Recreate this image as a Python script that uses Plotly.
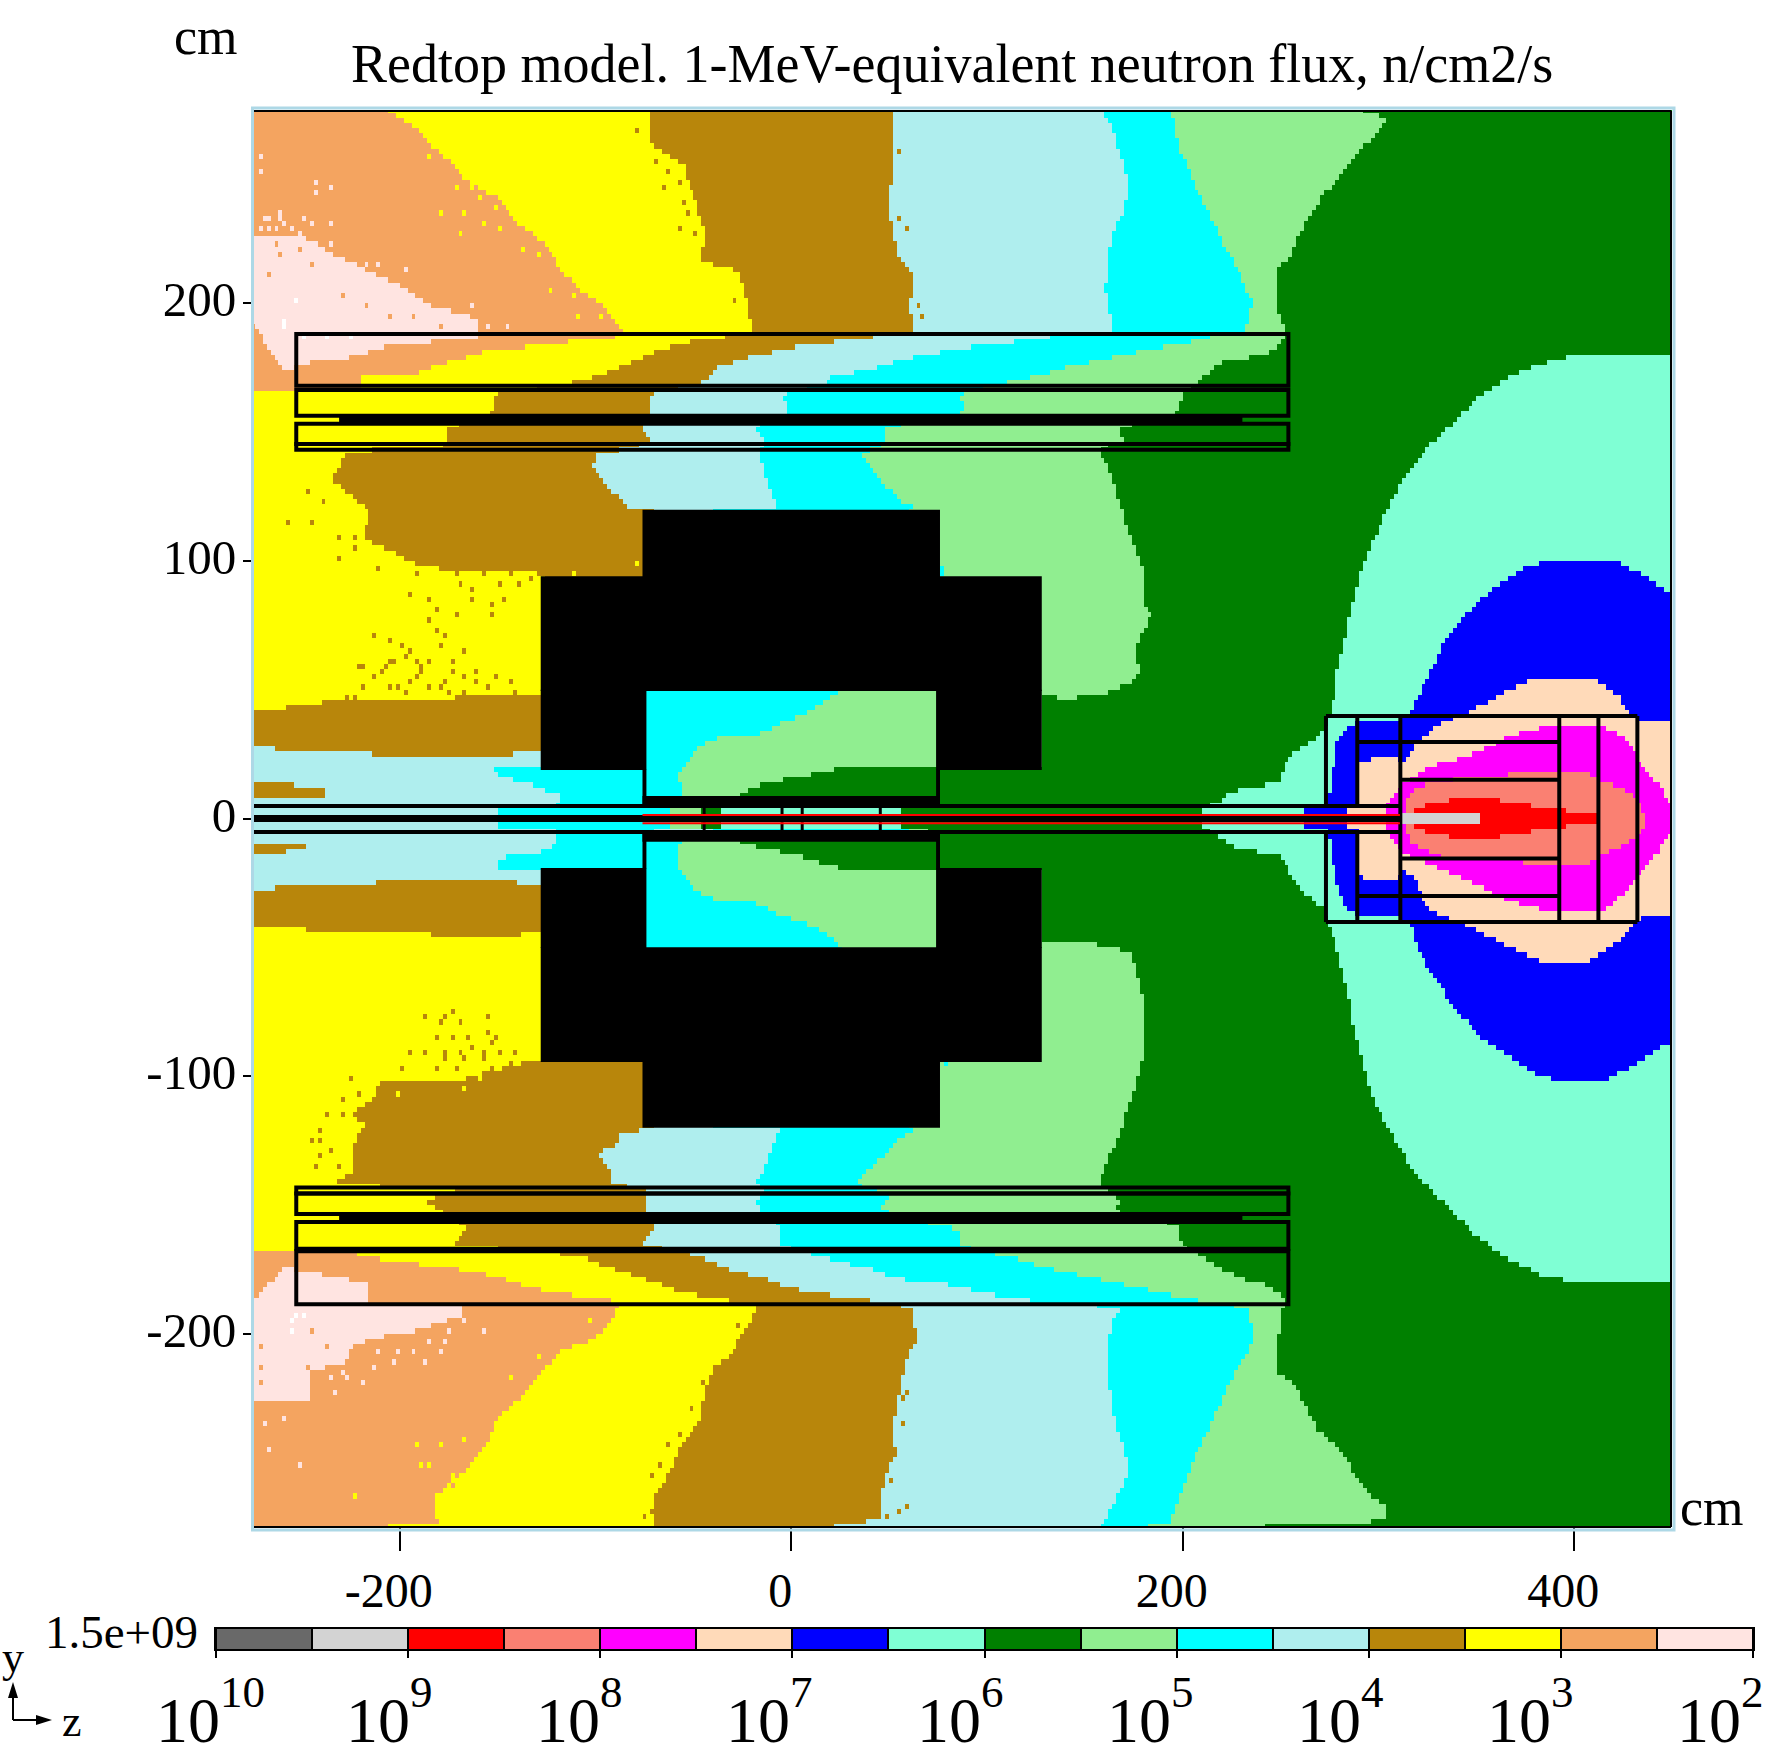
import numpy as np
import plotly.graph_objects as go

W, H = 1774, 1760
SERIF = "Liberation Serif"

# flux bins, highest first, as on the colour bar (last one is the white empty bin)
LEVEL_COLORS = ["#696969", "#d3d3d3", "#ff0000", "#fa8072", "#ff00ff", "#ffdab9", "#0000ff", "#7fffd4",
                "#008000", "#90ee90", "#00ffff", "#afeeee", "#b8860b", "#ffff00", "#f4a460", "#ffe4e1", "#ffffff"]
GRAY, RED, SALMON, MAGENTA, PEACH, BLUE, AQUA, GREEN = 1, 2, 3, 4, 5, 6, 7, 8
LIGHTGREEN, CYAN, PALETURQ, GOLDENROD, YELLOW, SANDY, MISTY, WHITE = 9, 10, 11, 12, 13, 14, 15, 16

BAR_LABELS = ["10", "9", "8", "7", "6", "5", "4", "3", "2"]
X_TICKS = [-200, 0, 200, 400]
X_TICK_TEXT = ["-200", "0", "200", "400"]
Y_TICKS = [200, 100, 0, -100, -200]
Y_TICK_TEXT = ["200", "100", "0", "-100", "-200"]

# contours, (z cm, y cm), top to bottom; everything left of them takes the colour
LIGHTGREEN_EDGE = [(288.7, 276), (304.8, 271.6), (299, 265.7), (288.7, 258.3), (278.5, 247.9), (271.3, 241.9), (261, 228.6),
                   (255.2, 218.2), (248, 213.7), (248, 198.8), (252.3, 188.7), (249.4, 184.7), (243.6, 180.3), (217.4, 176.6),
                   (208.6, 169.1), (199.9, 165.4), (197, 157.3), (167.8, 152), (169.3, 146.1), (160, 144.5), (157.7, 142.4),
                   (159.2, 140.5), (164.8, 130.2), (169.2, 118.5), (173.7, 108), (179.2, 97.8), (180.4, 83.6), (183.7, 78.4),
                   (175.9, 66.8), (177.7, 56.4), (173.7, 53), (158, 48), (142.5, 46.7), (129, 47.3), (128, 20), (70, 20),
                   (70, -20), (128, -20), (128, -47.4), (150, -48), (173.7, -51.8), (179.5, -69.4), (180.4, -90.3),
                   (176.5, -102), (171.3, -112.6), (167.3, -124.5), (160.8, -133.7), (156.9, -142.3), (160.8, -144),
                   (167.3, -148), (166, -152.8), (197.5, -158), (199.3, -166), (209.8, -169.5), (218.4, -174.5),
                   (232.8, -179.2), (242, -180.5), (249.9, -185), (252.5, -188.4), (251.2, -189.7), (248.6, -202.2),
                   (248.6, -215.4), (257.7, -219.3), (263, -228.5), (269.5, -237.8), (277.4, -243), (285.2, -250.9),
                   (291.8, -260), (304.9, -268), (304.9, -272.7), (287.9, -273.3), (214.5, -276)]
CYAN_EDGE = [(194, 276), (198.4, 259.8), (205.7, 246.4), (214.4, 233), (223.2, 219.6), (230.5, 209.2), (235.4, 200.3),
             (232, 188.7), (214.4, 187), (202.8, 184.7), (191, 183.3), (167.8, 179.5), (144.5, 175.8), (124.2, 171.4),
             (109.6, 169.1), (86.3, 164.7), (89.2, 157.3), (49, 152), (49, 146), (44.5, 144.5), (34.3, 141.7), (44.5, 132),
             (57, 123), (66, 120), (60, 119), (60, -119), (63.8, -120.5), (53.4, -125.8), (45.5, -132.4), (34.7, -140),
             (34.3, -142.4), (42, -144.6), (49.4, -146.9), (45.5, -152), (86.1, -160), (86.1, -166), (111, -170),
             (132, -174.5), (155.5, -178.5), (179, -182.4), (202.7, -186.4), (215.8, -187.7), (232.8, -189.7),
             (236.8, -199.6), (232.8, -207.5), (226.3, -215.4), (218.4, -228.5), (209.3, -243), (202.7, -253.6),
             (197.5, -265.4), (193.5, -273.3), (173.9, -276)]
PALETURQ_EDGE = [(159, 276), (165, 265.7), (169.3, 255.3), (172.2, 244.9), (169.3, 234.5), (163.5, 227), (162, 213.7),
                 (160.6, 204.8), (165, 188.7), (131.4, 187), (111, 184.7), (95, 183.3), (76, 181), (60, 178.8), (44.5, 175),
                 (18, 170.6), (17.3, 169), (-4, 164.7), (-1, 157.3), (-18.5, 152), (-14, 146), (-17, 141.7), (-12.6, 132),
                 (-6.8, 120.1), (-40, 119), (-40, -119), (-6.3, -121), (-10.6, -129.5), (-14.9, -137.4), (-18, -142),
                 (-13.8, -144.6), (-18, -149), (-16, -152.5), (-6.3, -157.7), (-6.3, -165.6), (13, -169.5), (23.8, -172.2),
                 (41, -174.8), (52, -178.5), (77, -180.5), (92.7, -183), (112.3, -186.4), (132, -187.7), (168.6, -189.7),
                 (163.4, -195.6), (162, -208.8), (163.4, -228.5), (168.6, -241.7), (172.6, -250.9), (170, -258.8),
                 (163.4, -268), (158.2, -276)]
GOLDENROD_EDGE = [(51.3, 276), (52.8, 255), (49.9, 240.4), (51.3, 228.6), (55.7, 216.7), (63, 210.7), (60, 198.8), (63, 188.7),
                  (41.6, 187), (18, 184.7), (-2.4, 182.5), (-23, 178.8), (-37.6, 175), (-45, 169), (-72.8, 164.7),
                  (-71.3, 157.3), (-76.3, 152), (-71.3, 146.1), (-99, 141), (-102, 137.2), (-93.3, 129), (-84.5, 121),
                  (-70, 120), (-70, -120.5), (-88, -121.7), (-89, -127), (-98.8, -129.5), (-92.3, -137.4), (-91.2, -142),
                  (-74, -144.6), (-74, -152.5), (-69.7, -158.4), (-76, -165.6), (-49.3, -169.5), (-33, -174.8),
                  (-12.7, -178.7), (-2, -182), (15.2, -184.6), (36.7, -186.6), (61.2, -189.7), (63.8, -202.2), (58.6, -210),
                  (56, -219.3), (52, -235), (53.4, -247), (48, -255), (46.8, -261), (45.5, -272), (13, -276)]
YELLOW_EDGE = [(-72.8, 276), (-72.8, 264), (-65.4, 258), (-55, 254), (-50.8, 243.4), (-46.4, 233), (-43.4, 227), (-46.4, 216.7),
               (-26, 212), (-23, 201.8), (-20, 188.7), (-33, 187), (-55, 184.7), (-72.8, 180.3), (-80, 177.3), (-94.8, 172.9),
               (-111, 169.1), (-152, 164.7), (-152, 157.3), (-175.4, 152), (-175.4, 146), (-180, 144.5), (-228, 142.4),
               (-234, 131.4), (-214.3, 118.5), (-220, 109.4), (-206, 104.2), (-192, 99), (-172.3, 95.8), (-130, 95.2),
               (-126, 94), (-126, -94), (-133, -94.5), (-141.8, -95.4), (-169.7, -102), (-195.6, -102.6), (-210.6, -102),
               (-211.7, -108.5), (-217, -109.9), (-224.6, -115), (-220.3, -119), (-223.5, -128.2), (-224.6, -137.4),
               (-234.3, -142), (-170.8, -144.6), (-187, -148), (-180.5, -151.8), (-165.4, -159.7), (-173, -165.6),
               (-110.6, -169.5), (-88, -175.5), (-75, -178.7), (-55.7, -184), (-34.2, -186.6), (-15.9, -189.2),
               (-19.2, -193.8), (-26.7, -201.7), (-32.1, -209.6), (-38.5, -212.2), (-42.8, -218.8), (-45, -225.3),
               (-47.1, -234.5), (-55.7, -242.4), (-60, -250.2), (-66.5, -259.4), (-71.9, -268.6), (-68.6, -276)]
SANDY_TOP_EDGE = [(-207.7, 276), (-193, 268.7), (-185.7, 262.7), (-172.5, 253.8), (-166.6, 247.9), (-152, 242), (-140, 231.5),
                  (-125.6, 222.6), (-118.2, 213.7), (-108, 204.8), (-96, 198.8), (-86, 188.7), (-89, 187), (-125.6, 184),
                  (-157.8, 181), (-184, 175), (-193, 172), (-221, 171.4), (-219.4, 169.1), (-219.4, 167)]
SANDY_BOTTOM_EDGE = [(-221.4, -167.6), (-221.4, -169.2), (-203, -172), (-176.2, -174.1), (-152.5, -177.4), (-131, -182.7),
                     (-109.5, -185.3), (-92.3, -186.6), (-88, -189.2), (-92.3, -196.5), (-103, -203), (-116, -206),
                     (-128, -215), (-140, -226), (-150.4, -233.2), (-156, -243), (-165, -252), (-178, -260),
                     (-182.7, -267.3), (-180.5, -273.9), (-231, -276)]
MISTY_TOP_EDGE = [(-248.7, 225.6), (-228, 216.7), (-201.8, 207.8), (-184, 198.8), (-160.8, 194.4), (-160.8, 186.2), (-204.8, 184),
                  (-222.4, 179.5), (-248.7, 176.6), (-257.6, 173.6), (-266.4, 181), (-273.7, 191.4)]
MISTY_BOTTOM_EDGE = [(-273, -186), (-265.5, -179.4), (-258, -174), (-251.5, -175.5), (-215, -180.7), (-215, -187.3), (-167.6, -188.6),
                     (-168.7, -193), (-191, -199), (-212.8, -201.7), (-225.7, -205.6), (-228, -212.2), (-245, -213.5),
                     (-247, -226.6)]

# closed regions near the axis
GOLDENROD_BAND_TOP = [(-280, 41), (-253, 43.4), (-226, 46.5), (-185, 46.5), (-160, 47.5), (-126, 47), (-126, 25.7), (-146, 23.6),
                      (-214, 23.6), (-214, 25.9), (-263, 25.9), (-263, 27.2), (-280, 27.2)]
GOLDENROD_BAND_BOTTOM = [(-280, -27.8), (-263, -27.8), (-263, -26.2), (-212, -26.2), (-212, -23.9), (-141.7, -23.9), (-140, -26.2),
                         (-126, -26.2), (-126, -44), (-150, -46), (-200, -44.5), (-257, -42.7), (-280, -41.4)]
PALETURQ_AXIS = [(-280, 27.2), (-263, 27.2), (-263, 25.9), (-214, 25.9), (-214, 23.6), (-146, 23.6), (-140, 25.7), (-110, 25.7),
                 (-110, -26.2), (-140, -26.2), (-141.7, -23.9), (-212, -23.9), (-212, -26.2), (-263, -26.2), (-263, -27.8),
                 (-280, -27.8)]
GOLDENROD_ISLAND_TOP = [(-280, 14.3), (-259, 14.3), (-251, 12.3), (-238, 11), (-238, 7.2), (-280, 7.2)]
GOLDENROD_ISLAND_BOTTOM = [(-280, -9.4), (-247.8, -9.4), (-247.8, -11.6), (-237, -11.6), (-237, -12.9), (-258.7, -12.9),
                           (-258.7, -14.6), (-280, -14.6)]
CYAN_AXIS = [(-126, 21), (-154, 20.1), (-149, 16.2), (-134.5, 13.6), (-122.4, 9.7), (-115, 8.4), (-120, 5.9), (-120, -8.4),
             (-122.4, -11.6), (-137, -14.8), (-146.5, -14.8), (-151.4, -17.4), (-149, -19.4), (-126, -19.4), (-70, -19.4),
             (-70, 21)]

# inside the magnet
CAVITY_TOP = [(-76, 6), (-76, 52), (76, 52), (76, 6)]
CAVITY_BOTTOM = [(-76, -6), (-76, -52), (76, -52), (76, -6)]
CAVITY_GREEN_TOP = [(30.7, 52), (17.5, 45.3), (5.4, 39.5), (-4.2, 37.6), (-18.7, 31.7), (-38, 31), (-47.6, 27.9), (-53.7, 21.4),
                    (-57.8, 17.5), (-54.9, 6), (76, 6), (76, 52)]
CAVITY_DARK_TOP = [(-25.9, 6), (-25.9, 8.7), (-18.7, 12.3), (-9, 14.3), (5.4, 16.2), (17.5, 18.1), (30.7, 20.4), (76, 20.4), (76, 6)]
CAVITY_GREEN_BOTTOM = [(-54.9, -6), (-57.8, -12.3), (-57.3, -20), (-50, -27.8), (-40, -31), (-21, -31.7), (-6.6, -37.5), (7.8, -40.7),
                       (19.9, -45.9), (27.1, -52), (76, -52), (76, -6)]
CAVITY_DARK_BOTTOM = [(-25.9, -6), (-25.9, -9.2), (-16.3, -11.6), (5.4, -14.8), (18.7, -18), (30.7, -20.7), (76, -20.7), (76, -6)]

# target region on the right, painted over the green
AQUA_REGION = [(452, 179.6), (398.8, 179.6), (383.2, 176.5), (365.4, 170.9), (350.9, 163.2), (336.4, 152.2), (324.1, 143), (316.3, 135.3),
               (309.6, 127.6), (303, 117.2), (297.4, 108.2), (291.8, 97.8), (287.4, 86.2), (282.9, 69.3), (279.5, 60.3), (277.3, 46),
               (272, 34.4), (265.8, 29.9), (257.2, 25.3), (252, 20.2), (250.3, 15), (235.7, 11.7), (223.7, 10.5), (218.5, 6.6),
               (210.8, 4), (210.8, -4), (218.5, -7), (223.7, -10.5), (233, -12.2), (250.3, -14.8), (255.5, -22.5), (262.3, -29),
               (272, -35.5), (277, -45.8), (285.2, -70.5), (287.9, -83.7), (293, -98.2), (298.3, -111.3), (307.5, -123.2),
               (318, -137.7), (333.7, -149.5), (349.4, -161.4), (365.1, -170.6), (383.5, -177.2), (399.2, -179.8), (452, -179.8)]
BLUE_REGION = [(452, 86), (441.2, 91.3), (430, 96.5), (417.8, 101), (387.6, 101), (375.4, 97.2), (362, 91.3), (350.9, 84.2),
               (340.8, 75.8), (334.2, 69.3), (327.5, 58.3), (321.9, 49.9), (319, 46), (316.4, 40.9), (310.4, 38.3), (296.6, 38.3),
               (289.8, 37.6), (283, 34.4), (278.6, 30.5), (277.8, 22.7), (275.2, 11.1), (274.4, 6.6), (274.4, -7), (275.2, -7),
               (277.8, -23.8), (283, -34.2), (289.8, -38), (310.4, -38.3), (316.4, -41.3), (319, -48.4), (327, -60), (336.3, -70.5),
               (342.9, -77), (352, -85), (362.5, -90.3), (378.2, -98.2), (388.7, -101.5), (417.5, -101.5), (430.6, -95.5),
               (441, -90.3), (452, -86.3)]
PEACH_REGION = [(452, 38.3), (434, 38.3), (427.8, 40.9), (423.3, 47.3), (414.4, 52.5), (408.8, 54.5), (387.6, 54.5), (377.6, 53.2),
                (369.8, 51.2), (360.9, 47.3), (345.6, 40.9), (334.4, 38.3), (324.1, 32.4), (319, 29.2), (312.1, 21.4), (310, 23.4),
                (296.7, 23.4), (290.3, 21.4), (289.5, 4), (289.5, -4), (290.3, -22.5), (296.7, -23.8), (310, -23.8), (313, -20),
                (319, -23.8), (324, -34.2), (334.4, -38.7), (345.6, -41.3), (360, -47.3), (372, -52), (385, -56), (405, -56),
                (415, -52), (424, -47), (428.9, -41.3), (434, -38.7), (452, -36.8)]
MAGENTA_REGION = [(452, 3.3), (442.6, 13.7), (434, 20.2), (431.5, 25.3), (426.3, 31.8), (418.6, 34.4), (409.1, 36.7), (392.8, 36.7),
                  (390.2, 36.3), (377.4, 34.4), (364.5, 31.2), (360.2, 28.6), (344.7, 24), (325.9, 20.2), (320.7, 16.9), (312.1, 13.7),
                  (308.7, 9.2), (306, 6.6), (304, 4), (304, -4), (306, -6.6), (308.7, -9.6), (312, -14), (321.6, -16), (339.6, -22.5),
                  (353.3, -27), (360.2, -30.3), (377.4, -34.2), (389.4, -36.8), (409, -36.8), (418.6, -34.2), (425.4, -29),
                  (431.5, -22.5), (434, -20.6), (442.6, -13.5), (452, -3)]
SALMON_REGION = [(435.7, 2), (430.6, 8.5), (422, 12.4), (413.4, 14.3), (410.8, 16.3), (406.6, 17.6), (393.7, 18.2), (350, 16.3), (331, 14.3),
                 (320.7, 12.4), (315.6, 9.8), (313.8, 4.6), (314.2, 0), (314.2, -5), (317.3, -9.6), (331, -14.8), (350, -16.7),
                 (368, -16.7), (393, -18), (406.6, -18), (413.4, -14.1), (422, -11.5), (430.6, -7.7), (435.7, -2.5)]
RED_REGION = [(318, 3.3), (323.3, 3.3), (323.3, 5.7), (335.3, 5.7), (335.3, 7.2), (362.8, 7.2), (362.8, 5.7), (377.4, 5.7), (377.4, 3.3),
              (396.3, 3.3), (396.3, 1.7), (411.4, 1.7), (411.4, -1.7), (396.3, -1.7), (396.3, -3.3), (377.4, -3.3), (377.4, -5.7),
              (362.8, -5.7), (362.8, -7.3), (335.3, -7.3), (335.3, -5.7), (323.3, -5.7), (323.3, -3.3), (318, -3.3)]
GRAY_REGION = [(312, 2), (352, 2), (352, -2), (312, -2)]

# flux inside the beam pipe, from left to right
PIPE_EDGES = [-280, -149, -62, -45, -36, 56, 210, 262.6, 284, 304, 312]
PIPE_LEVELS = [PALETURQ, CYAN, LIGHTGREEN, GREEN, AQUA, GREEN, AQUA, BLUE, PEACH, MAGENTA]

# isolated mesh cells, (z cm, y cm)
SPECKLE_GOLDENROD = [(-211.5, 96.5), (-192, 94.5), (-171, 94.5), (-169.5, 91.3), (-164, 88.7), (-157, 94.5), (-150, 90), (-144, 94.5),
                     (-138.6, 91.3), (-133, 92.6), (-196, 86), (-186, 85.5), (-164, 85.5), (-147, 85.5), (-182, 81.6), (-154, 83.3),
                     (-152.6, 79.6), (-172, 78), (-186, 76.4), (-182, 72.5), (-176.5, 70.6), (-213, 70.6), (-204.5, 68.6), (-199, 67),
                     (-179.3, 67), (-196, 65), (-167, 65), (-203, 61.5), (-197.5, 62.8), (-192, 61.5), (-185, 61.5), (-172.3, 61.5),
                     (-220.5, 59.6), (-189, 59.6), (-206.5, 59.6), (-208.7, 57.6), (-161, 57), (-172.3, 57), (-190.5, 55.7), (-213, 55),
                     (-168, 55), (-151.3, 55), (-176.5, 53.8), (-196, 52.5), (-185, 51.8), (-179.3, 50.5), (-142.8, 52.2), (-218.5, 50.5),
                     (-206, 50.5), (-201.7, 50.5), (-161, 52.5), (-155.5, 51.2), (-227, 47.3), (-222.7, 47.3), (-197.5, 48), (-175, 48.6),
                     (-166.7, 49.9), (-141.4, 48), (-133, 47.3), (-248, 127.5), (-239.6, 123), (-245, 115.2), (-257.2, 114.8),
                     (-231.7, 109), (-223.3, 109), (-222.7, 105.5), (-230.6, 101.9),
                     (-172.3, -74.4), (-176.8, -76.4), (-155.8, -76.4), (-188, -78), (-169.7, -80), (-179.4, -80), (-155.8, -82.3),
                     (-181.6, -85), (-174, -85.6), (-165.4, -85.6), (-151.5, -85), (-162.2, -88.2), (-152.5, -87.6), (-195.6, -90.8),
                     (-188, -91.5), (-177.3, -90.2), (-169.7, -91.5), (-157.9, -90.2), (-148.2, -90.2), (-141.8, -91.5), (-176.2, -94),
                     (-167.6, -94), (-156.8, -94), (-198.8, -96.7), (-180.5, -96.7), (-171.9, -96.7), (-152.5, -96.7), (-144, -96),
                     (-225.2, -100.4), (-230, -108.5), (-220.3, -107.9), (-237.5, -115), (-228.9, -115), (-240.7, -120.4), (-246, -124.3),
                     (-240.7, -125), (-241.8, -130.2), (-234.3, -129.5), (-242.9, -135.4), (-231, -135.4),
                     (-27.8, -197), (-20.2, -199), (-18.1, -193.2), (-45, -220), (-39.6, -227.3), (-51.4, -228.6), (-57.9, -239.7),
                     (-62.2, -243.7), (-66.5, -250.9), (-70.8, -255.5), (-69.7, -263.4), (-75, -271.2),
                     (-80, 267.2), (-69.8, 264.2), (-69.8, 254.6), (-64, 251.6), (-56.6, 246.4), (-65.4, 245), (-55.2, 239.7),
                     (-53.7, 235.2), (-58, 228.6), (-49.3, 227), (-42, 223.4), (-36, 218.9), (-28.8, 213.7), (-30, 201.8),
                     (54.2, 259.8), (58.6, 228.6), (67.3, 195.1), (64.4, 198.8), (54.2, 233.8),
                     (56, -226), (59.9, -224), (57.3, -235), (59.9, -266.7), (54.7, -270), (49.4, -272), (50.7, -257), (48, -253.5),
                     (57.3, -211.4),
                     (-220, 59.6), (-204.4, 60.2), (-190, 57.6), (-212.9, 55), (-173, 57.6), (-161, 56.3), (-150.2, 55.7), (-142.9, 52.4)]
SPECKLE_YELLOW = [(-78.4, 98), (-110.6, 94.9), (-167.6, -105.7), (-201.6, -107.9), (-218.6, -118.6), (-159, -101.3), (-191, -101.3),
                  (-144, -218), (-130, -209), (-104, -195.8), (-130, -218), (-120.3, -212.8), (-223.5, -263.6), (-162.2, -265.7),
                  (-178.4, -243.7), (-167.6, -241), (-184.8, -251.6), (-174, -254.2), (-161, -251.6), (-169.7, -256.8), (-180.5, -263.4),
                  (-189.1, -251.6), (-191.3, -243.7),
                  (-171, 245), (-163.7, 245), (-159.3, 240.4), (-154.9, 242.7), (-179.8, 235.2), (-166.6, 234.5), (-152, 237.5),
                  (-157.8, 230), (-149, 228.6), (-169.6, 227), (-137.3, 220.4), (-128.5, 218), (-124, 204), (-110.9, 202.6), (-99, 203.3),
                  (-109.4, 195.9), (-96.2, 195.9), (-182.8, 264.2), (-181.3, 260.5), (-169.6, 256), (-185.7, 256.8)]
SPECKLE_SANDY = [(-236.4, -205), (-247, -212.8), (-270.8, -205), (-270.8, -212.2), (-272, -220), (-242.9, -218.8), (-245, -199),
                 (-167.6, -247.6), (-155.8, -240.4), (-174, -260),
                 (-229, 203), (-263.4, 222.6), (-260.5, 219.6), (-251.7, 221), (-266.4, 210.7), (-216.5, 198.8), (-205, 195.9),
                 (-193, 194.4), (-178.4, 191.4), (-245.8, 215.2)]
SPECKLE_MISTY = [(-266.5, -245.6), (-252, -251), (-269.8, -236), (-260, -233.8), (-210.6, -207), (-202, -207), (-192.3, -207), (-179.4, -207),
                 (-187, -210.2), (-204, -210.2), (-212.8, -212.2), (-230, -214.2), (-235.4, -218), (-227.8, -218), (-218.1, -219.4),
                 (-233.2, -222.7), (-184.8, -203), (-177.3, -203), (-157.9, -199), (-175.1, -199), (-167.6, -195.8),
                 (-272, 256.8), (-272, 250.8), (-242.9, 247), (-235.6, 245), (-242.9, 242), (-262, 235.3), (-266.4, 233.8), (-248.7, 233),
                 (-235.6, 230), (-263.4, 229.3), (-244.4, 230), (-218, 215.2), (-210.6, 215.2), (-197.4, 213.7), (-235.6, 223.4),
                 (-163.7, 198.8), (-198.9, 200.3), (-194.5, 200.3), (-155, 190.7), (-144.6, 191.4),
                 (-272, 228), (-268, 228), (-264, 228), (-260, 230), (-256, 228), (-252, 226), (-270, 232), (-262, 232)]
SPECKLE_WHITE = [(-252.6, -193.8), (-254.7, -195.8), (-249.3, -192.5), (-254.7, -199), (-253.2, 200.8), (-259, 193), (-259, 190),
                 (-248.8, 186.2), (-237, 187), (-225.3, 186.2)]
SPECKLE_CYAN = [(77, 97), (77, 95), (78.2, -95.5)]

# steel of the magnet as (z0, y0, z1, y1)
MAGNET_BLOCKS = [(-76, 93.5, 76, 119.8), (-128, 49.5, 128, 94), (-128, 18.8, -74, 50), (74, 18.8, 128, 50), (-76, 5.6, -74, 19), (74, 5.6, 76, 19),
                 (-76, 5.6, 76, 8.7), (-76, -120, 76, -94), (-128, -94.5, 128, -50), (-128, -50.3, -74, -19.2), (74, -50.3, 128, -19.2),
                 (-76, -19.4, -74, -6), (74, -19.4, 76, -6), (-76, -9, 76, -6)]
# muon system outlines
DETECTOR_BOXES = [(-252.9, 168, 254, 188.1), (-252.9, 156.3, 254, 166.3), (-252.9, 145.4, 254, 153.2), (-252.9, 143.1, 254, 145.4),
                  (-252.9, -145.6, 254, -143.2), (-252.9, -153.5, 254, -145.6), (-252.9, -167, 254, -156.6), (-252.9, -188.5, 254, -168)]
DETECTOR_GAPS = [(-231, 153.2, 230.5, 156.3), (-231, -156.6, 230.5, -153.5)]
# target station lines, (z0, y0, z1, y1)
STATION_LINES = [(273.2, 39.8, 432.3, 39.8), (273.2, -40.2, 432.3, -40.2), (432.3, 39.8, 432.3, -40.2), (273.2, 39.8, 273.2, 4.85),
                 (273.2, -5.25, 273.2, -40.2), (289.2, 39.8, 289.2, 4.85), (289.2, -5.25, 289.2, -40.2), (311.2, 39.8, 311.2, -40.2),
                 (392.4, 39.8, 392.4, -40.2), (412.4, 39.8, 412.4, -40.2), (289.2, 29.7, 392.4, 29.7), (289.2, -30.1, 392.4, -30.1),
                 (311.2, 15, 392.4, 15), (311.2, -15.5, 392.4, -15.5)]
PIPE_LINES = [(-275, 4.85, 311.2, 4.85), (-275, -5.25, 311.2, -5.25)]
PIPE_CORE = (-275, 0, 311.2, 0)
PIPE_BARS = [-44.5, -4.7, 5.6, 45.5]
RED_LINES = [(-76, 1.4, 311, 1.4), (-76, -1.8, 311, -1.8)]


def px(x):
    return x / W


def py(y):
    return 1 - y / H


def inside(zz, yy, poly):
    # even-odd test over the whole mesh
    pts = np.array(poly, dtype=float)
    a = pts
    b = np.roll(pts, -1, axis=0)
    mask = np.zeros(zz.shape, dtype=bool)
    for (z0, y0), (z1, y1) in zip(a, b):
        if y0 == y1:
            continue
        cross = (y0 > yy) != (y1 > yy)
        mask ^= cross & (zz < z0 + (yy - y0) * (z1 - z0) / (y1 - y0))
    return mask


def left_of(edge):
    return [(-280, edge[0][1])] + edge + [(-280, edge[-1][1])]


# mesh of 2 cm cells
z_cells = np.arange(-275, 452, 2)
y_cells = np.arange(-275, 276, 2)
zz, yy = np.meshgrid(z_cells, y_cells)
flux = np.full(zz.shape, GREEN, dtype=float)

PAINT = [(LIGHTGREEN, left_of(LIGHTGREEN_EDGE)), (CYAN, left_of(CYAN_EDGE)), (PALETURQ, left_of(PALETURQ_EDGE)),
         (GOLDENROD, left_of(GOLDENROD_EDGE)), (YELLOW, left_of(YELLOW_EDGE)), (SANDY, left_of(SANDY_TOP_EDGE)),
         (SANDY, left_of(SANDY_BOTTOM_EDGE)), (MISTY, left_of(MISTY_TOP_EDGE)), (MISTY, left_of(MISTY_BOTTOM_EDGE)),
         (GOLDENROD, GOLDENROD_BAND_TOP), (GOLDENROD, GOLDENROD_BAND_BOTTOM), (PALETURQ, PALETURQ_AXIS),
         (GOLDENROD, GOLDENROD_ISLAND_TOP), (GOLDENROD, GOLDENROD_ISLAND_BOTTOM), (CYAN, CYAN_AXIS),
         (CYAN, CAVITY_TOP), (CYAN, CAVITY_BOTTOM), (LIGHTGREEN, CAVITY_GREEN_TOP), (LIGHTGREEN, CAVITY_GREEN_BOTTOM),
         (GREEN, CAVITY_DARK_TOP), (GREEN, CAVITY_DARK_BOTTOM), (AQUA, AQUA_REGION), (BLUE, BLUE_REGION),
         (PEACH, PEACH_REGION), (MAGENTA, MAGENTA_REGION), (SALMON, SALMON_REGION), (RED, RED_REGION), (GRAY, GRAY_REGION)]
for level, poly in PAINT:
    flux[inside(zz, yy, poly)] = level

for i, level in enumerate(PIPE_LEVELS):
    flux[(np.abs(yy) < 4.85) & (zz >= PIPE_EDGES[i]) & (zz < PIPE_EDGES[i + 1])] = level

for level, cells in [(GOLDENROD, SPECKLE_GOLDENROD), (YELLOW, SPECKLE_YELLOW), (SANDY, SPECKLE_SANDY), (MISTY, SPECKLE_MISTY),
                     (WHITE, SPECKLE_WHITE), (CYAN, SPECKLE_CYAN)]:
    for z, y in cells:
        flux[int((y + 276) // 2), int((z + 276) // 2)] = level

n = len(LEVEL_COLORS)
colorscale = []
for i, c in enumerate(LEVEL_COLORS):
    colorscale += [[i / n, c], [(i + 1) / n, c]]

fig = go.Figure()
fig.add_trace(go.Heatmap(x=z_cells, y=y_cells, z=flux, colorscale=colorscale, zmin=-0.5, zmax=n - 0.5, showscale=False,
                         hoverinfo="skip"))
fig.add_trace(go.Heatmap(x=np.arange(16) + 0.5, y=[0], z=[list(range(16))], colorscale=colorscale, zmin=-0.5, zmax=n - 0.5,
                         showscale=False, xaxis="x2", yaxis="y2", xgap=2, hoverinfo="skip"))

shapes = []
for z0, y0, z1, y1 in MAGNET_BLOCKS + DETECTOR_GAPS:
    shapes.append(dict(type="rect", x0=z0, y0=y0, x1=z1, y1=y1, fillcolor="black", line_width=0, layer="above"))
for z0, y0, z1, y1 in DETECTOR_BOXES:
    shapes.append(dict(type="rect", x0=z0, y0=y0, x1=z1, y1=y1, line=dict(color="black", width=4), layer="above"))
for z0, y0, z1, y1 in STATION_LINES + PIPE_LINES:
    shapes.append(dict(type="line", x0=z0, y0=y0, x1=z1, y1=y1, line=dict(color="black", width=4), layer="above"))
shapes.append(dict(type="line", x0=PIPE_CORE[0], y0=0, x1=PIPE_CORE[2], y1=0, line=dict(color="black", width=7), layer="above"))
for z in PIPE_BARS:
    shapes.append(dict(type="line", x0=z, y0=4.85, x1=z, y1=-5.25, line=dict(color="black", width=3), layer="above"))
for z0, y0, z1, y1 in RED_LINES:
    shapes.append(dict(type="line", x0=z0, y0=y0, x1=z1, y1=y1, line=dict(color="red", width=2), layer="above"))

# frame: pale blue outside, thin black on three sides
shapes.append(dict(type="rect", xref="paper", yref="paper", x0=px(252.5), x1=px(1674), y0=py(1530), y1=py(108),
                   line=dict(color="#add8e6", width=3), layer="above"))
for x0, y0, x1, y1 in [(254, 111, 1671, 111), (254, 1527, 1671, 1527), (1671, 111, 1671, 1527)]:
    shapes.append(dict(type="line", xref="paper", yref="paper", x0=px(x0), x1=px(x1), y0=py(y0), y1=py(y1),
                       line=dict(color="black", width=2), layer="above"))

# y-z triad in the corner
for x0, y0, x1, y1 in [(13, 1720, 13, 1690), (13, 1720, 42, 1720)]:
    shapes.append(dict(type="line", xref="paper", yref="paper", x0=px(x0), x1=px(x1), y0=py(y0), y1=py(y1),
                       line=dict(color="black", width=2)))
for pts in [[(13, 1682), (8, 1698), (18, 1698)], [(52, 1720), (36, 1715), (36, 1725)]]:
    path = "M" + " L".join("%.5f,%.5f" % (px(x), py(y)) for x, y in pts) + " Z"
    shapes.append(dict(type="path", xref="paper", yref="paper", path=path, fillcolor="black", line_width=0))

TEXTS = [("Redtop model. 1-MeV-equivalent neutron flux, n/cm2/s", 952, 64, 54), ("cm", 206, 37, 52), ("cm", 1712, 1507, 52),
         ("1.5e+09", 122, 1632, 47), ("y", 13, 1657, 44), ("z", 72, 1721, 44)]
annotations = [dict(text=t, x=px(x), y=py(y), xref="paper", yref="paper", xanchor="center", yanchor="middle", showarrow=False,
                    font=dict(family=SERIF, size=s, color="black")) for t, x, y, s in TEXTS]
# colour bar labels sit a little left of their ticks, more so towards the right; exponents are raised
for i, lab in enumerate(BAR_LABELS):
    annotations.append(dict(text="10", x=i * 2, y=py(1720), xref="x2", yref="paper", yanchor="middle",
                            xanchor="left", xshift=-62 - i * 2, showarrow=False,
                            font=dict(family=SERIF, size=64, color="black")))
    annotations.append(dict(text=lab, x=i * 2, y=py(1692), xref="x2", yref="paper", yanchor="middle",
                            xanchor="left", xshift=2 - i * 2, showarrow=False,
                            font=dict(family=SERIF, size=45, color="black")))

fig.update_layout(
    width=W, height=H, autosize=False, margin=dict(l=0, r=0, t=0, b=0), showlegend=False,
    paper_bgcolor="white", plot_bgcolor="black", shapes=shapes, annotations=annotations,
    font=dict(family=SERIF, color="black"),
    xaxis=dict(domain=[px(253), px(1672)], range=[-275, 450], tickvals=X_TICKS, ticktext=X_TICK_TEXT, ticks="outside", ticklen=23,
               tickwidth=2, tickcolor="black", showgrid=False, zeroline=False, tickfont=dict(size=48, family=SERIF),
               ticklabelshift=-11, ticklabelstandoff=-2, anchor="y"),
    yaxis=dict(domain=[py(1527), py(110)], range=[-275, 275], tickvals=Y_TICKS, ticktext=Y_TICK_TEXT, ticks="outside", ticklen=9,
               tickwidth=2, tickcolor="black", showgrid=False, zeroline=False, tickfont=dict(size=49, family=SERIF),
               ticklabelshift=-4, ticklabelstandoff=-3, anchor="x"),
    xaxis2=dict(domain=[px(216), px(1753)], range=[0, 16], tickvals=list(range(0, 17, 2)), showticklabels=False, ticks="outside",
                ticklen=7, tickwidth=2, tickcolor="black", showgrid=False, zeroline=False, showline=True, linecolor="black",
                linewidth=2, mirror=True, anchor="y2"),
    yaxis2=dict(domain=[py(1649), py(1629)], range=[-0.5, 0.5], showticklabels=False, ticks="", showgrid=False, zeroline=False,
                showline=True, linecolor="black", linewidth=2, mirror=True, anchor="x2"),
)

fig.write_html("out.html", config={"displayModeBar": False},
               post_script="document.body.style.margin='0';document.body.style.overflow='hidden';")
